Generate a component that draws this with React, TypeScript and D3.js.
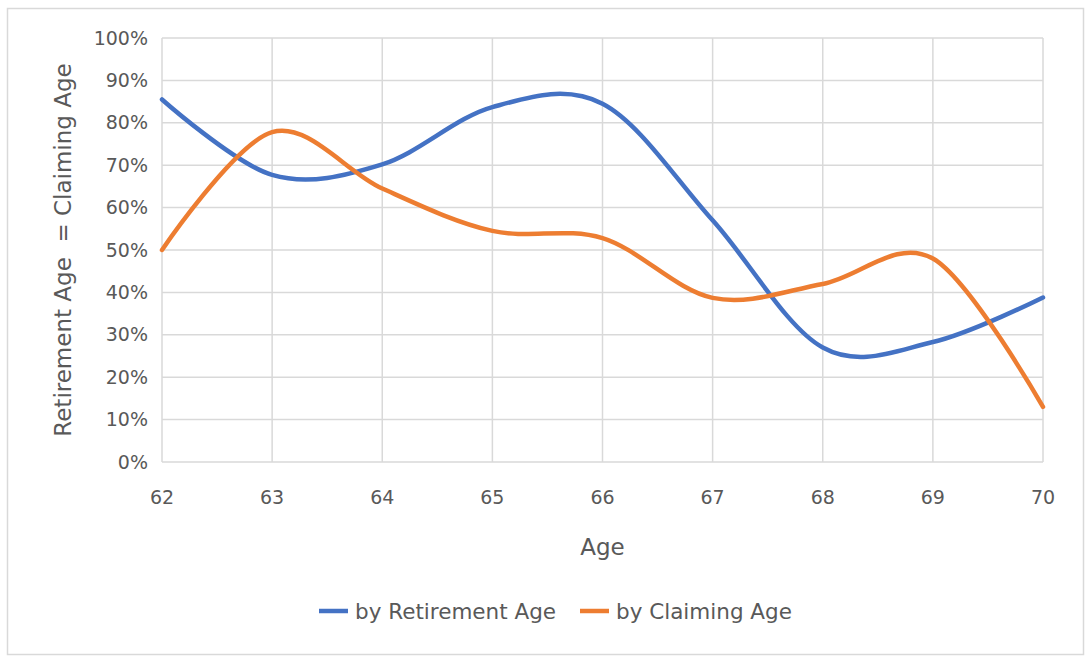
import React from 'react';
import * as d3 from 'd3';

// ages on the x axis
const ages = [62, 63, 64, 65, 66, 67, 68, 69, 70];
// share (%) where retirement age equals claiming age
const byRetirement = [85.5, 67.7, 70.2, 83.7, 84.5, 57, 27, 28.3, 38.8];
const byClaiming = [50, 77.8, 64.5, 54.5, 52.8, 38.7, 42, 48, 13];
const yTicks = [0, 10, 20, 30, 40, 50, 60, 70, 80, 90, 100];

const seriesNames = ['by Retirement Age', 'by Claiming Age'];
const seriesColors = ['#4472C4', '#ED7D31'];

const W = 1090;
const H = 661;
const margin = { top: 38, right: 47, bottom: 199, left: 162 };
const font = '"DejaVu Sans", sans-serif';
const textColor = '#595959';
const gridColor = '#D9D9D9';

const App: React.FC = () => {
  const x = d3.scaleLinear().domain([62, 70]).range([margin.left, W - margin.right]);
  const y = d3.scaleLinear().domain([0, 100]).range([H - margin.bottom, margin.top]);

  const line = d3.line<number>()
    .x((_, i) => x(ages[i]))
    .y(d => y(d))
    .curve(d3.curveCatmullRom.alpha(0));

  const series = [byRetirement, byClaiming];

  return (
    <svg width={W} height={H} style={{ position: 'absolute', left: 0, top: 0, background: '#fff' }}>
      {/* chart frame */}
      <rect x={7.5} y={8.5} width={1076} height={646} fill="#fff" stroke={gridColor} strokeWidth={1.5} />

      {/* grid */}
      {yTicks.map(t => (
        <line key={'h' + t} x1={x(62)} x2={x(70)} y1={y(t)} y2={y(t)} stroke={gridColor} strokeWidth={1.5} />
      ))}
      {ages.map(a => (
        <line key={'v' + a} x1={x(a)} x2={x(a)} y1={y(0)} y2={y(100)} stroke={gridColor} strokeWidth={1.5} />
      ))}

      {/* y tick labels */}
      {yTicks.map(t => (
        <text key={'yl' + t} x={x(62) - 14} y={y(t)} dy="0.35em" textAnchor="end"
          fontFamily={font} fontSize={19} fill={textColor}>{t + '%'}</text>
      ))}
      {/* x tick labels */}
      {ages.map(a => (
        <text key={'xl' + a} x={x(a)} y={y(0) + 42} textAnchor="middle"
          fontFamily={font} fontSize={19} fill={textColor}>{a}</text>
      ))}

      {/* axis titles */}
      <text x={(x(62) + x(70)) / 2} y={555} textAnchor="middle" fontFamily={font} fontSize={23} fill={textColor}>Age</text>
      <text transform={`translate(71,${(y(0) + y(100)) / 2}) rotate(-90)`} textAnchor="middle"
        fontFamily={font} fontSize={23} fill={textColor} style={{ whiteSpace: 'pre' }}>Retirement Age  = Claiming Age</text>

      {/* lines */}
      {series.map((s, i) => (
        <path key={'s' + i} d={line(s) || ''} fill="none" stroke={seriesColors[i]} strokeWidth={4.5}
          strokeLinecap="round" strokeLinejoin="round" />
      ))}

      {/* legend */}
      {seriesNames.map((n, i) => {
        const lx = [319, 580][i];
        return (
          <g key={'lg' + i}>
            <line x1={lx} x2={lx + 29} y1={611} y2={611} stroke={seriesColors[i]} strokeWidth={4.5} />
            <text x={lx + 36} y={611} dy="0.35em" fontFamily={font} fontSize={21.5} fill={textColor}>{n}</text>
          </g>
        );
      })}
    </svg>
  );
};

export default App;
